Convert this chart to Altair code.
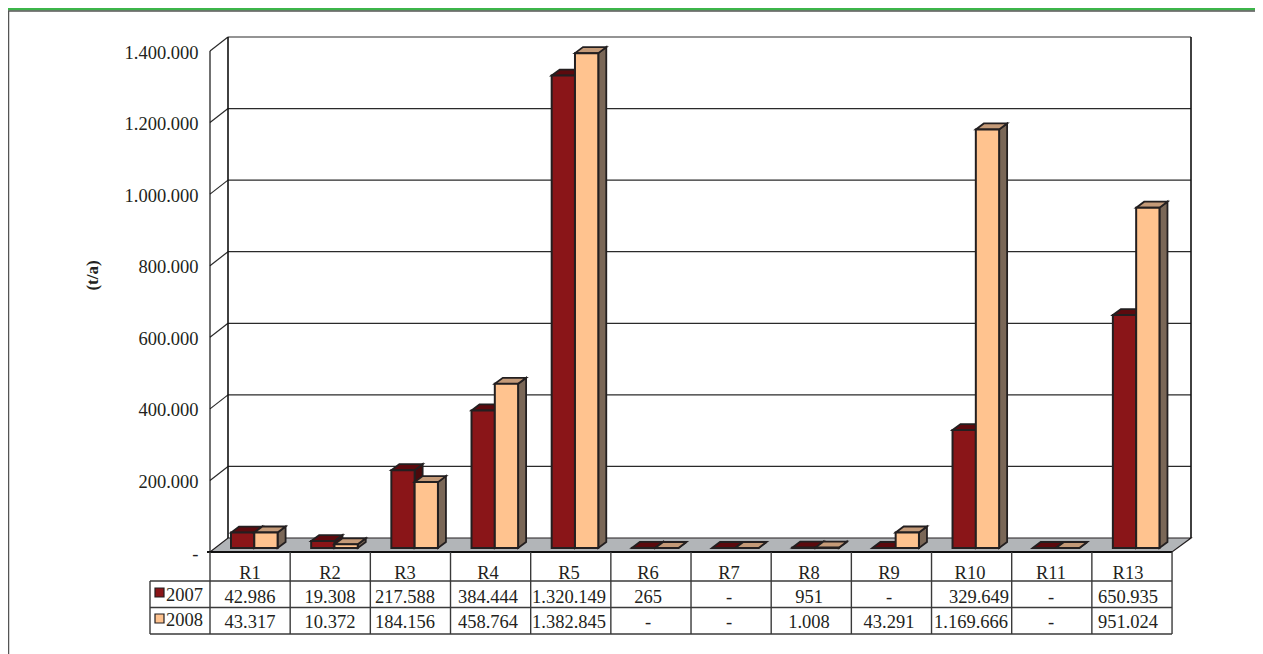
import altair as alt
import pandas as pd

# ---------- chart values ----------
categories = ["R1", "R2", "R3", "R4", "R5", "R6", "R7", "R8", "R9", "R10", "R11", "R13"]
values_2007 = [42986, 19308, 217588, 384444, 1320149, 265, None, 951, None, 329649, None, 650935]
values_2008 = [43317, 10372, 184156, 458764, 1382845, None, None, 1008, 43291, 1169666, None, 951024]
years = ["2007", "2008"]
tick_values = [0, 200000, 400000, 600000, 800000, 1000000, 1200000, 1400000]

# ---------- layout (page pixels, converted through the scales) ----------
W, H = 1247, 646
BAND = 80.17
LEFT = 210.0
BASE = 548.0
RATE = 1400000 / 501.0
BAR_START = 21.0
BAR_W = 23.3
DEPTH_X, DEPTH_Y = 8.0, 6.0
FONT_SIZE = 18.5
label_cx = [250, 330, 405, 488, 569, 648, 729, 809, 889, 970, 1051, 1128]

def X(px):
    return (px - LEFT) / BAND

def V(py):
    return (BASE - py) * RATE

x_scale = alt.Scale(domain=[X(8), X(8 + W)], nice=False, zero=False)
y_scale = alt.Scale(domain=[V(8 + H), V(8)], nice=False, zero=False)

axis_px = 198
label_expr = ("datum.value == 0 ? '-\u00a0\u00a0\u00a0\u00a0' : "
              "replace(format(datum.value, ','), /,/g, '.')")
y_axis = alt.Axis(
    values=tick_values, labelExpr=label_expr, offset=-(axis_px - 8), domain=False, ticks=False,
    grid=False, labelPadding=0, labelOffset=5, labelFont="Liberation Serif", labelFontSize=FONT_SIZE,
    labelColor="#231f20", titleFont="Liberation Serif", titleFontSize=17, titleFontWeight="bold",
    titleColor="#231f20", titleX=-97, titleY=267, titleAngle=270, labelOverlap=False)

def enc_x(f="x"):
    return alt.X(f"{f}:Q", scale=x_scale, axis=None)

def enc_y(f="y"):
    return alt.Y(f"{f}:Q", scale=y_scale, axis=y_axis, title="(t/a)")

def seg(px1, py1, px2, py2):
    return {"x": X(px1), "y": V(py1), "x2": X(px2), "y2": V(py2)}

def lines(segs, color, width):
    return alt.Chart(pd.DataFrame(segs)).mark_rule(color=color, strokeWidth=width).encode(
        x=enc_x(), x2="x2:Q", y=enc_y(), y2="y2:Q")

def polygon(rows, fill, stroke="#231f20", width=1.5):
    return alt.Chart(pd.DataFrame(rows)).mark_area(
        fill=fill, stroke=stroke, strokeWidth=width, strokeJoin="miter", opacity=1
    ).encode(x=enc_x(), y=enc_y(), y2="y2:Q", detail="key:N")

def poly_rows(key, pts):
    return [{"key": key, "x": a, "y": b, "y2": c} for a, b, c in pts]

# ---------- frame ----------
layers = []
layers.append(lines([seg(8, 9, 1255, 9)], "#3cb54a", 3))
layers.append(lines([seg(8, 11, 1255, 11), seg(8.5, 11, 8.5, 654)], "#555555", 1.5))

# ---------- walls and floor ----------
wall_top, wall_bot = 37.0, 538.0
wall_l, wall_r = 228.0, 1191.0
front_l, front_r, front_bot = 210.0, 1172.0, 552.0
layers.append(polygon(poly_rows("floor", [
    (X(front_l), V(front_bot), V(front_bot)),
    (X(wall_l), V(wall_bot), V(front_bot)),
    (X(front_r), V(wall_bot), V(front_bot)),
    (X(wall_r), V(wall_bot), V(wall_bot)),
]), "#b2b5b8", "#231f20", 1.2))
grid = []
for t in tick_values[1:]:
    back = wall_bot - t / RATE
    grid.append(seg(wall_l, back, wall_r, back))
    grid.append(seg(front_l, back + 14, wall_l, back))
layers.append(lines(grid, "#2a2a2a", 1.2))
layers.append(lines([
    seg(wall_l, wall_top, wall_l, wall_bot),
    seg(wall_r, wall_top, wall_r, wall_bot),
], "#111111", 1.6))
layers.append(lines([
    seg(front_l, 51, front_l, front_bot),
], "#111111", 1.2))
layers.append(lines([seg(207, front_bot, front_r, front_bot)], "#111111", 2.2))

# ---------- 3D bars ----------
dx = DEPTH_X / BAND
bar_u = BAR_W / BAND
dv = DEPTH_Y * RATE

def series_layers(values, offset, front, top, side):
    tops, sides, fronts = [], [], []
    for i, val in enumerate(values):
        v = 0 if val is None else val
        x0 = i + (BAR_START + offset * BAR_W) / BAND
        x1 = x0 + bar_u
        key = categories[i]
        tops += poly_rows(key, [(x0, v, v), (x0 + dx, v + dv, v), (x1, v + dv, v), (x1 + dx, v + dv, v + dv)])
        sides += poly_rows(key, [(x1, v, 0), (x1 + dx, v + dv, dv)])
        fronts.append({"x": x0, "x2": x1, "y": v, "y2": 0})
    bar = alt.Chart(pd.DataFrame(fronts)).mark_bar(
        fill=front, stroke="#231f20", strokeWidth=2
    ).encode(x=enc_x(), x2="x2:Q", y=enc_y(), y2="y2:Q")
    return [polygon(sides, side, width=1.8), polygon(tops, top, width=1.8), bar]

layers += series_layers(values_2007, 0, "#8a1518", "#5c0a0e", "#4a0a0c")
layers += series_layers(values_2008, 1, "#ffc38f", "#c49a78", "#7a6757")

# ---------- data table ----------
row_y = [552.0, 581.0, 607.5, 634.0]
col_x = [LEFT + i * BAND for i in range(13)]
table = [seg(150, row_y[1], col_x[-1], row_y[1]),
         seg(150, row_y[2], col_x[-1], row_y[2]),
         seg(150, row_y[3], col_x[-1], row_y[3]),
         seg(150, row_y[1], 150, row_y[3])]
for c in col_x:
    table.append(seg(c, row_y[0], c, row_y[3]))
layers.append(lines(table, "#3a3a3a", 1.4))

def fmt(v):
    return "-" if v is None else f"{v:,}".replace(",", ".")

cells = []
for i, cat in enumerate(categories):
    cells.append({"x": X(label_cx[i]), "y": V(572.5), "text": cat})
    nudge = 9 if cat == "R10" else 0
    cells.append({"x": X(label_cx[i] + nudge), "y": V(597), "text": fmt(values_2007[i])})
    cells.append({"x": X(label_cx[i] + (1 if cat == "R10" else 0)), "y": V(621.5), "text": fmt(values_2008[i])})
for yr, py in zip(years, [594.5, 619.5]):
    cells.append({"x": X(184.5), "y": V(py), "text": yr})
layers.append(alt.Chart(pd.DataFrame(cells)).mark_text(
    font="Liberation Serif", fontSize=FONT_SIZE, color="#231f20", align="center", baseline="middle"
).encode(x=enc_x(), y=enc_y(), text="text:N"))

# legend keys in the table
keys = pd.DataFrame([
    {"x": X(155), "x2": X(164), "y": V(588), "y2": V(597), "yr": years[0]},
    {"x": X(155), "x2": X(164), "y": V(614), "y2": V(623), "yr": years[1]},
])
layers.append(alt.Chart(keys).mark_rect(stroke="#231f20", strokeWidth=1.2).encode(
    x=enc_x(), x2="x2:Q", y=enc_y(), y2="y2:Q",
    fill=alt.Fill("yr:N", scale=alt.Scale(domain=years, range=["#8a1518", "#ffc38f"]), legend=None)))

chart = alt.layer(*layers).properties(
    width=W, height=H, padding=0, autosize=alt.AutoSizeParams(type="none"), background="white"
).configure_view(stroke=None)

chart.save("out.html", embed_options={"renderer": "svg", "actions": False})
